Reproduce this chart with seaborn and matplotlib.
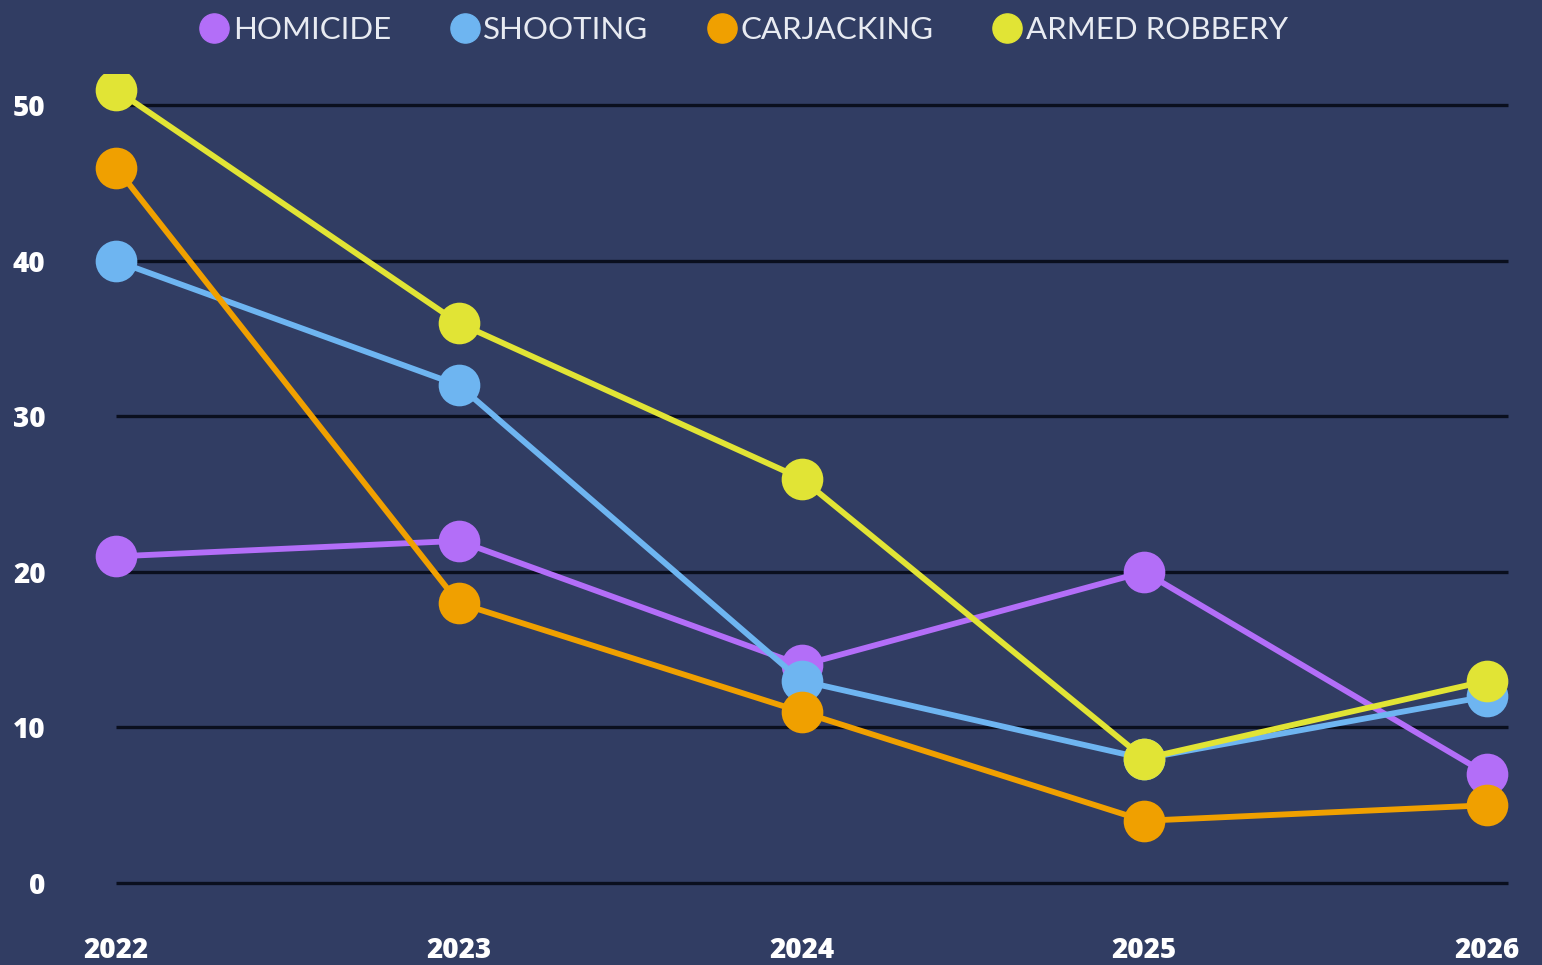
import pandas as pd
import numpy as np
import seaborn as sns
import matplotlib.pyplot as plt

# data
years = [2022, 2023, 2024, 2025, 2026]
homicide = [21, 22, 14, 20, 7]
shooting = [40, 32, 13, 8, 12]
carjacking = [46, 18, 11, 4, 5]
armed_robbery = [51, 36, 26, 8, 13]

crimes = ["HOMICIDE", "SHOOTING", "CARJACKING", "ARMED ROBBERY"]
colors = ["#b36ef8", "#6eb5f1", "#f0a000", "#e1e435"]
bg = "#313d63"

df = pd.DataFrame({
    "year": years * 4,
    "value": homicide + shooting + carjacking + armed_robbery,
    "crime": np.repeat(crimes, len(years)),
})

sns.set_style("dark")
plt.rcParams["font.family"] = ["Lato", "DejaVu Sans"]

fig = plt.figure(figsize=(15.42, 9.65), dpi=100, facecolor=bg)
ax = fig.add_axes([0.0575, 0.085, 0.9246, 0.838])
ax.set_facecolor(bg)

yticks = [0, 10, 20, 30, 40, 50]
# grid lines run from the first year to just past the last one
ax.hlines(yticks, years[0], years[-1] + 0.06, color="#0a0f1e", linewidth=2.4,
          zorder=1, clip_on=False)

sns.lineplot(data=df, x="year", y="value", hue="crime", hue_order=crimes,
             palette=colors, marker="o", markersize=30, markeredgewidth=0,
             linewidth=4.2, ax=ax, legend=False, zorder=3)

ax.set_xlim(years[0] - 0.08, years[-1] + 0.08)
ax.set_ylim(0, 52)
ax.set_xticks(years)
ax.set_yticks(yticks)
ax.set_xlabel("")
ax.set_ylabel("")
ax.grid(False)
for s in ax.spines.values():
    s.set_visible(False)
ax.tick_params(axis="x", length=0, pad=38, labelcolor="white")
ax.tick_params(axis="y", length=0, pad=31, labelcolor="white")
plt.setp(ax.get_xticklabels() + ax.get_yticklabels(), fontsize=20,
         fontweight="heavy", family=["Open Sans", "DejaVu Sans"])

handles = [plt.Line2D([], [], color=c, marker="o", linestyle="", markersize=21)
           for c in colors]
fig.legend(handles, crimes, loc="center", bbox_to_anchor=(0.482, 0.969), ncol=4,
           frameon=False, fontsize=22.5, labelcolor="#e8ebf2", handletextpad=0.1,
           columnspacing=1.85, handlelength=1.0)

fig.savefig("out.png", dpi=100, facecolor=bg)
